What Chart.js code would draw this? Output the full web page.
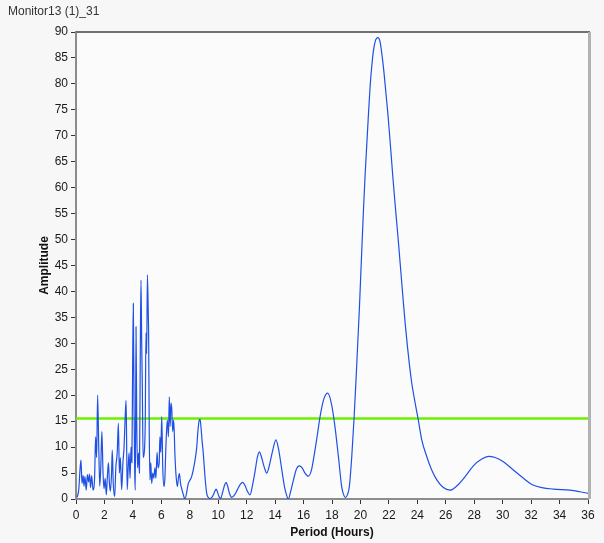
<!DOCTYPE html>
<html>
<head>
<meta charset="utf-8">
<script src="https://cdn.jsdelivr.net/npm/chart.js@4/dist/chart.umd.min.js"></script>
<style>
  html, body { margin: 0; padding: 0; background: #f7f7f7; }
  #wrap { width: 604px; height: 543px; position: relative; }
</style>
</head>
<body>
<div id="wrap"><canvas id="c" width="604" height="543"></canvas></div>
<script>
// ---- data ----
const chartTitle = "Monitor13 (1)_31";
const xTitle = "Period (Hours)";
const yTitle = "Amplitude";

const periodHours = [
  0.08, 0.2, 0.28, 0.35, 0.42, 0.5, 0.56, 0.63, 0.72, 0.8, 0.88, 0.95, 1.02, 1.1, 1.2, 1.31,
  1.38, 1.45, 1.52, 1.6, 1.67, 1.74, 1.82, 1.9, 1.97, 2.05, 2.13, 2.2, 2.28, 2.35, 2.42, 2.5,
  2.55, 2.62, 2.72, 2.8, 2.9, 2.98, 3.05, 3.12, 3.21, 3.3, 3.38, 3.45, 3.52, 3.56, 3.6, 3.67,
  3.73, 3.8, 3.87, 3.93, 3.98, 4.03, 4.08, 4.13, 4.17, 4.22, 4.27, 4.33, 4.4, 4.46, 4.52, 4.57,
  4.62, 4.66, 4.72, 4.8, 4.87, 4.92, 4.97, 5.02, 5.08, 5.11, 5.15, 5.2, 5.26, 5.32, 5.4, 5.47,
  5.55, 5.62, 5.7, 5.77, 5.85, 5.9, 5.96, 6.03, 6.1, 6.19, 6.25, 6.32, 6.42, 6.5, 6.56, 6.62,
  6.68, 6.73, 6.8, 6.87, 6.96, 7.05, 7.13, 7.2, 7.27, 7.35, 7.45, 7.55, 7.66, 7.9, 8.13, 8.37,
  8.49, 8.56, 8.65, 8.72, 8.8, 8.86, 8.95, 9.07, 9.19, 9.3, 9.42, 9.55, 9.66, 9.76, 9.85, 9.93,
  10.01, 10.09, 10.17, 10.3, 10.45, 10.55, 10.65, 10.8, 10.95, 11.15, 11.35, 11.55, 11.72, 11.9,
  12.05, 12.24, 12.4, 12.6, 12.75, 12.89, 13.05, 13.25, 13.41, 13.6, 13.8, 14.06, 14.25, 14.45,
  14.65, 14.8, 14.93, 15.1, 15.3, 15.5, 15.7, 15.9, 16.1, 16.34, 16.55, 16.75, 16.95, 17.2,
  17.44, 17.7, 17.98, 18.21, 18.45, 18.68, 18.85, 18.96, 19.08, 19.22, 19.39, 19.55, 19.69,
  19.81, 19.93, 20.02, 20.11, 20.21, 20.32, 20.44, 20.55, 20.68, 20.8, 20.91, 21.03,
  21.21, 21.38, 21.54, 21.68, 21.8, 21.92, 22.04, 22.16, 22.28, 22.4, 22.52, 22.64, 22.76,
  22.88, 23.0, 23.14, 23.3, 23.44, 23.6, 23.84, 24.07, 24.31, 24.66, 25.01, 25.37, 25.83,
  26.3, 26.77, 27.36, 27.94, 28.53, 29.0, 29.47, 30.05, 30.75, 31.46, 32.05, 32.75, 33.57,
  34.74, 35.44, 36.0
];
const amplitude = [
  0.3, 2, 5.6, 7.5, 3, 4.5, 2.5, 4.3, 1.7, 4.7, 3.3, 4.8, 2.2, 4.5, 1.7, 4.3,
  12, 8, 20, 10, 2.5, 6, 13, 5, 2, 4, 0.8, 4, 7, 3, 1.5, 5,
  9.4, 3, 0.5, 6, 9, 14.6, 5, 8, 1.8, 7, 10, 15.2, 19, 11, 1.8, 6,
  8.9, 4, 10, 7, 24.9, 37.7, 18, 5, 1.7, 33.2, 15, 6, 8.9, 5, 28, 42.2,
  30, 22.3, 8, 9, 15, 32, 28, 43.2, 36, 30.6, 13, 3.7, 7, 3, 5, 4,
  6, 4, 9, 6, 7, 12, 9, 15.9, 6, 2.4, 4, 10, 15.2, 12, 19.7, 14,
  18.5, 17.5, 13, 15.2, 8.2, 4, 2.4, 4, 4.9, 3, 1.8, 0.8, 0, 3, 4.3, 7.5,
  10, 12.7, 15, 15.4, 13.5, 11.4, 8.8, 4.3, 1.1, 0.3, 0.1, 0.3, 0.8, 1.5, 1.9, 1.5,
  0.8, 0.3, 0.1, 1.2, 2.7, 3.2, 2.6, 1, 0.3, 0.8, 1.8, 2.8, 3.2, 2.5,
  1.5, 0.8, 2.5, 5.5, 8, 9.1, 8, 6, 5, 6.5, 9, 11.4, 9.5, 6,
  2.5, 0.8, 0, 1.5, 3.8, 5.8, 6.4, 6, 5, 4.4, 5.5, 8.5, 12, 16.5,
  19.4, 20.4, 18.1, 13.9, 8.2, 2.4, 0.6, 0.3, 0.8, 2.4, 8.2, 15.5, 23,
  30, 37, 43, 49, 55.5, 62, 68, 73.5, 79.5, 83.5, 86.3, 88.1,
  88.9, 88.1, 85, 81.5, 78, 74.5, 70.5, 66.3, 62, 58, 54.2, 50.5, 46.5,
  42.5, 38.5, 34, 29.5, 26, 22.5, 18.6, 15.2, 11.4, 8.2, 5.6, 3.7, 2.2,
  1.7, 2.5, 4.3, 6.4, 7.7, 8.2, 8, 7.2, 5.6, 4, 2.8, 2.2, 1.9,
  1.7, 1.4, 1.1
];
const thresholdX = [0, 36];
const thresholdY = [15.5, 15.5];

const yTickValues = [0, 5, 10, 15, 20, 25, 30, 35, 40, 45, 50, 55, 60, 65, 70, 75, 80, 85, 90];
const xTickValues = [0, 2, 4, 6, 8, 10, 12, 14, 16, 18, 20, 22, 24, 26, 28, 30, 32, 34, 36];

// ---- build chart ----
const spectrum = periodHours.map((x, i) => ({ x: x, y: amplitude[i] }));
const threshold = thresholdX.map((x, i) => ({ x: x, y: thresholdY[i] }));

const FONT = "'Liberation Sans', Arial, sans-serif";

const framePlugin = {
  id: 'frame',
  beforeDraw(chart) {
    const { ctx, chartArea: a } = chart;
    ctx.save();
    ctx.fillStyle = '#f7f7f7';
    ctx.fillRect(0, 0, chart.width, chart.height);
    ctx.fillStyle = '#fbfbfb';
    ctx.fillRect(a.left, a.top, a.right - a.left, a.bottom - a.top);
    ctx.restore();
  },
  afterDraw(chart) {
    const { ctx, chartArea: a } = chart;
    ctx.save();
    // top frame line
    ctx.strokeStyle = '#707070';
    ctx.lineWidth = 2;
    ctx.beginPath();
    ctx.moveTo(a.left, a.top);
    ctx.lineTo(a.right + 2, a.top);
    ctx.stroke();
    // right frame line
    ctx.strokeStyle = '#b2b2b2';
    ctx.lineWidth = 3;
    ctx.beginPath();
    ctx.moveTo(a.right + 1.5, a.top);
    ctx.lineTo(a.right + 1.5, a.bottom);
    ctx.stroke();
    // chart title text
    ctx.fillStyle = '#333333';
    ctx.font = "12px " + FONT;
    ctx.textBaseline = 'middle';
    ctx.textAlign = 'left';
    ctx.fillText(chartTitle, 8, 12);
    ctx.restore();
  }
};

new Chart(document.getElementById('c'), {
  type: 'line',
  data: {
    datasets: [
      {
        label: 'Spectrum',
        data: spectrum,
        borderColor: '#1f50e6',
        borderWidth: 1.2,
        pointRadius: 0,
        fill: false,
        cubicInterpolationMode: 'monotone'
      },
      {
        label: 'Threshold',
        data: threshold,
        borderColor: '#6cf000',
        borderWidth: 2.5,
        pointRadius: 0,
        fill: false,
        tension: 0
      }
    ]
  },
  options: {
    responsive: false,
    animation: false,
    devicePixelRatio: 1,
    layout: { padding: { top: 32, right: 16, left: 0, bottom: 0 } },
    plugins: {
      legend: { display: false },
      tooltip: { enabled: false },
      title: { display: false }
    },
    scales: {
      x: {
        type: 'linear',
        min: 0,
        max: 36,
        afterFit(scale) { scale.height = 44; },
        afterBuildTicks(scale) { scale.ticks = xTickValues.map(v => ({ value: v })); },
        ticks: {
          autoSkip: false,
          maxRotation: 0,
          padding: 4,
          color: '#1a1a1a',
          font: { family: FONT, size: 12 }
        },
        grid: { drawOnChartArea: false, tickLength: 5, tickColor: '#333333', tickWidth: 1 },
        border: { color: '#8c8c8c', width: 2 },
        title: {
          display: true,
          text: xTitle,
          color: '#111111',
          font: { family: FONT, size: 12, weight: 'bold' },
          padding: { top: 0, bottom: 3 }
        }
      },
      y: {
        type: 'linear',
        min: 0,
        max: 90,
        afterFit(scale) { scale.width = 76; },
        afterBuildTicks(scale) { scale.ticks = yTickValues.map(v => ({ value: v })); },
        ticks: {
          autoSkip: false,
          padding: 3,
          color: '#1a1a1a',
          font: { family: FONT, size: 12 }
        },
        grid: { drawOnChartArea: false, tickLength: 5, tickColor: '#333333', tickWidth: 1 },
        border: { color: '#8c8c8c', width: 2 },
        title: {
          display: true,
          text: yTitle,
          color: '#111111',
          font: { family: FONT, size: 12, weight: 'bold' },
          padding: { top: 37, bottom: 0 }
        }
      }
    }
  },
  plugins: [framePlugin]
});
</script>
</body>
</html>
